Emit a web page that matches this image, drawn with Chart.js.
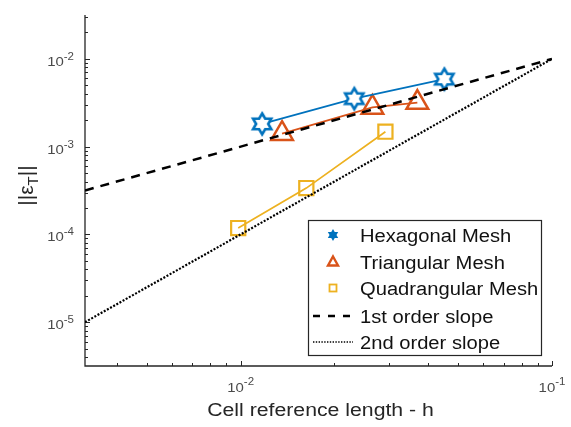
<!DOCTYPE html>
<html>
<head>
<meta charset="utf-8">
<script src="https://cdn.jsdelivr.net/npm/chart.js@4.4.1/dist/chart.umd.min.js"></script>
<style>
html,body{margin:0;padding:0;background:#fff;}
canvas{display:block;}
</style>
</head>
<body>
<canvas id="c" width="571" height="427"></canvas>
<script>
// ---- data ----
const hexH = [0.01172, 0.02317, 0.0451];
const hexErr = [1.815e-3, 3.52e-3, 5.87e-3];
const triH = [0.01358, 0.02649, 0.03694];
const triErr = [1.406e-3, 2.80e-3, 3.18e-3];
const quadH = [0.00982, 0.01625, 0.02917];
const quadErr = [1.18e-4, 3.37e-4, 1.48e-3];
const refH = [0.0031623, 0.1];
const firstOrder = [0.00031623, 0.01];
const secondOrder = [0.00001, 0.01];

const xTicks = [0.01, 0.1];
const xTickExp = ['-2', '-1'];
const yTicks = [1e-5, 1e-4, 1e-3, 1e-2];
const yTickExp = ['-5', '-4', '-3', '-2'];
const legendLabels = ['Hexagonal Mesh', 'Triangular Mesh', 'Quadrangular Mesh', '1st order slope', '2nd order slope'];
const xTitle = 'Cell reference length - h';

const BLUE = '#0072BD', ORANGE = '#D95319', YELLOW = '#EDB120', AX = '#262626';
const FONT = "'Liberation Sans', Arial, sans-serif";

function hexagramPath(ctx, cx, cy, R) {
  const r = R / Math.sqrt(3);
  ctx.beginPath();
  for (let i = 0; i < 12; i++) {
    const a = -Math.PI / 2 + i * Math.PI / 6;
    const rr = (i % 2 === 0) ? R : r;
    const px = cx + rr * Math.cos(a), py = cy + rr * Math.sin(a);
    if (i === 0) ctx.moveTo(px, py); else ctx.lineTo(px, py);
  }
  ctx.closePath();
}
const hexImg = document.createElement('canvas');
hexImg.width = 28; hexImg.height = 28;
(function () {
  const g = hexImg.getContext('2d');
  hexagramPath(g, 14, 14, 10.5);
  g.fillStyle = '#ffffff';
  g.fill();
  g.lineWidth = 2.6;
  g.strokeStyle = BLUE;
  g.lineJoin = 'miter';
  g.stroke();
})();

const pts = (xs, ys) => xs.map((v, i) => ({x: v, y: ys[i]}));

function stretchText(ctx, text, x, y, align, font, sx) {
  ctx.save();
  ctx.font = font;
  const w = ctx.measureText(text).width * sx;
  let x0 = x;
  if (align === 'center') x0 = x - w / 2;
  else if (align === 'right') x0 = x - w;
  ctx.translate(x0, y);
  ctx.scale(sx, 1);
  ctx.textAlign = 'left';
  ctx.textBaseline = 'alphabetic';
  ctx.fillText(text, 0, 0);
  ctx.restore();
  return w;
}
function measure(ctx, text, font, sx) { ctx.save(); ctx.font = font; const w = ctx.measureText(text).width * sx; ctx.restore(); return w; }

const SX = 1.15;
const axesPlugin = {
  id: 'matlabAxes',
  beforeDatasetsDraw(chart) {
    const ctx = chart.ctx, xs = chart.scales.x, ys = chart.scales.y;
    const L = xs.left, R = xs.right, T = ys.top, B = ys.bottom;
    ctx.save();
    ctx.strokeStyle = AX;
    ctx.lineWidth = 1.3;
    ctx.beginPath();
    ctx.moveTo(L, T); ctx.lineTo(L, B); ctx.lineTo(R, B);
    ctx.stroke();
    ctx.lineWidth = 1;
    for (let e = -3; e <= -1; e++) {
      for (let k = 1; k <= 9; k++) {
        const v = k * Math.pow(10, e);
        if (v < xs.min * 0.999 || v > xs.max * 1.001) continue;
        const p = Math.round(xs.getPixelForValue(v)) + 0.5;
        const len = k === 1 ? 5 : 3;
        ctx.beginPath(); ctx.moveTo(p, B); ctx.lineTo(p, B - len); ctx.stroke();
      }
    }
    for (let e = -6; e <= -1; e++) {
      for (let k = 1; k <= 9; k++) {
        const v = k * Math.pow(10, e);
        if (v < ys.min * 0.999 || v > ys.max * 1.001) continue;
        const p = Math.round(ys.getPixelForValue(v)) + 0.5;
        const len = k === 1 ? 5 : 3;
        ctx.beginPath(); ctx.moveTo(L, p); ctx.lineTo(L + len, p); ctx.stroke();
      }
    }
    ctx.restore();
  },
  afterDraw(chart) {
    const ctx = chart.ctx, xs = chart.scales.x, ys = chart.scales.y;
    ctx.save();
    ctx.fillStyle = '#4a4a4a';
    const fBase = '13px ' + FONT, fSup = '10px ' + FONT;
    xTicks.forEach((v, i) => {
      const p = xs.getPixelForValue(v);
      const w1 = measure(ctx, '10', fBase, SX), w2 = measure(ctx, xTickExp[i], fSup, SX);
      const x0 = p - (w1 + w2) / 2;
      stretchText(ctx, '10', x0, 392, 'left', fBase, SX);
      stretchText(ctx, xTickExp[i], x0 + w1, 385, 'left', fSup, SX);
    });
    yTicks.forEach((v, i) => {
      const p = ys.getPixelForValue(v);
      const w1 = measure(ctx, '10', fBase, SX), w2 = measure(ctx, yTickExp[i], fSup, SX);
      const xr = 74;
      stretchText(ctx, '10', xr - w2 - w1, p + 7, 'left', fBase, SX);
      stretchText(ctx, yTickExp[i], xr - w2, p + 1, 'left', fSup, SX);
    });
    ctx.fillStyle = AX;
    stretchText(ctx, xTitle, (xs.left + xs.right) / 2 + 2, 416, 'center', '18px ' + FONT, 1.18);
    ctx.save();
    const fY = '21px ' + FONT, fSub = '15px ' + FONT;
    ctx.translate(33, (ys.top + ys.bottom) / 2);
    ctx.rotate(-Math.PI / 2);
    ctx.textBaseline = 'alphabetic';
    ctx.font = fY;
    const a = ctx.measureText('||\u03B5').width, c = ctx.measureText('||').width;
    ctx.font = fSub;
    const b = ctx.measureText('T').width;
    const tot = a + b + c;
    let u = -tot / 2 + 5;
    ctx.font = fY; ctx.fillText('||\u03B5', u, 0); u += a;
    ctx.font = fSub; ctx.fillText('T', u, 5); u += b;
    ctx.font = fY; ctx.fillText('||', u, 0);
    ctx.restore();
    // legend
    const bx = 308, by = 220, bw = 233, bh = 135;
    ctx.fillStyle = '#ffffff';
    ctx.fillRect(bx, by, bw, bh);
    ctx.strokeStyle = AX; ctx.lineWidth = 1.2;
    ctx.strokeRect(bx + 0.5, by + 0.5, bw, bh);
    const rows = [235, 262, 288, 316, 342];
    const mx = 333;
    hexagramPath(ctx, mx, rows[0], 6);
    ctx.fillStyle = BLUE; ctx.fill();
    ctx.beginPath();
    ctx.moveTo(mx, rows[1] - 5.5); ctx.lineTo(mx + 5, rows[1] + 3.5); ctx.lineTo(mx - 5, rows[1] + 3.5); ctx.closePath();
    ctx.strokeStyle = ORANGE; ctx.lineWidth = 2.4; ctx.stroke();
    ctx.strokeStyle = YELLOW; ctx.lineWidth = 1.8;
    ctx.strokeRect(mx - 3.5, rows[2] - 3.5, 7, 7);
    ctx.strokeStyle = '#000'; ctx.lineWidth = 2.5; ctx.setLineDash([7, 8]);
    ctx.beginPath(); ctx.moveTo(313, rows[3]); ctx.lineTo(353, rows[3]); ctx.stroke();
    ctx.lineWidth = 1.6; ctx.setLineDash([1.4, 1.4]);
    ctx.beginPath(); ctx.moveTo(313, rows[4]); ctx.lineTo(353, rows[4]); ctx.stroke();
    ctx.setLineDash([]);
    ctx.fillStyle = '#111';
    legendLabels.forEach((t, i) => {
      stretchText(ctx, t, 360, rows[i] + 6.5, 'left', '18px ' + FONT, 1.12);
    });
    ctx.restore();
  }
};

new Chart(document.getElementById('c'), {
  type: 'line',
  data: {
    datasets: [
      {label: legendLabels[0], data: pts(hexH, hexErr), borderColor: BLUE, borderWidth: 1.7,
       pointStyle: hexImg, pointRadius: 11, showLine: true, fill: false, order: 2},
      {label: legendLabels[1], data: pts(triH, triErr), borderColor: ORANGE, borderWidth: 1.7,
       pointStyle: 'triangle', pointRadius: 12.5, pointBorderWidth: 2.5, pointBorderColor: ORANGE,
       pointBackgroundColor: 'rgba(0,0,0,0)', fill: false, order: 2},
      {label: legendLabels[2], data: pts(quadH, quadErr), borderColor: YELLOW, borderWidth: 1.7,
       pointStyle: 'rect', pointRadius: 10, pointBorderWidth: 2.2, pointBorderColor: YELLOW,
       pointBackgroundColor: 'rgba(0,0,0,0)', fill: false, order: 2},
      {label: legendLabels[3], data: pts(refH, firstOrder), borderColor: '#000', borderWidth: 2.5,
       borderDash: [9, 7], pointRadius: 0, fill: false, order: 1},
      {label: legendLabels[4], data: pts(refH, secondOrder), borderColor: '#000', borderWidth: 2.2,
       borderDash: [2, 1.6], pointRadius: 0, fill: false, order: 1}
    ]
  },
  options: {
    responsive: false,
    animation: false,
    devicePixelRatio: 1,
    layout: {padding: {left: 85, right: 19, top: 5, bottom: 61}},
    plugins: {legend: {display: false}, tooltip: {enabled: false}},
    elements: {line: {tension: 0}},
    scales: {
      x: {type: 'logarithmic', display: false, min: 0.0031623, max: 0.1},
      y: {type: 'logarithmic', display: false, min: 0.0000031623, max: 0.031623}
    }
  },
  plugins: [axesPlugin]
});
</script>
</body>
</html>
